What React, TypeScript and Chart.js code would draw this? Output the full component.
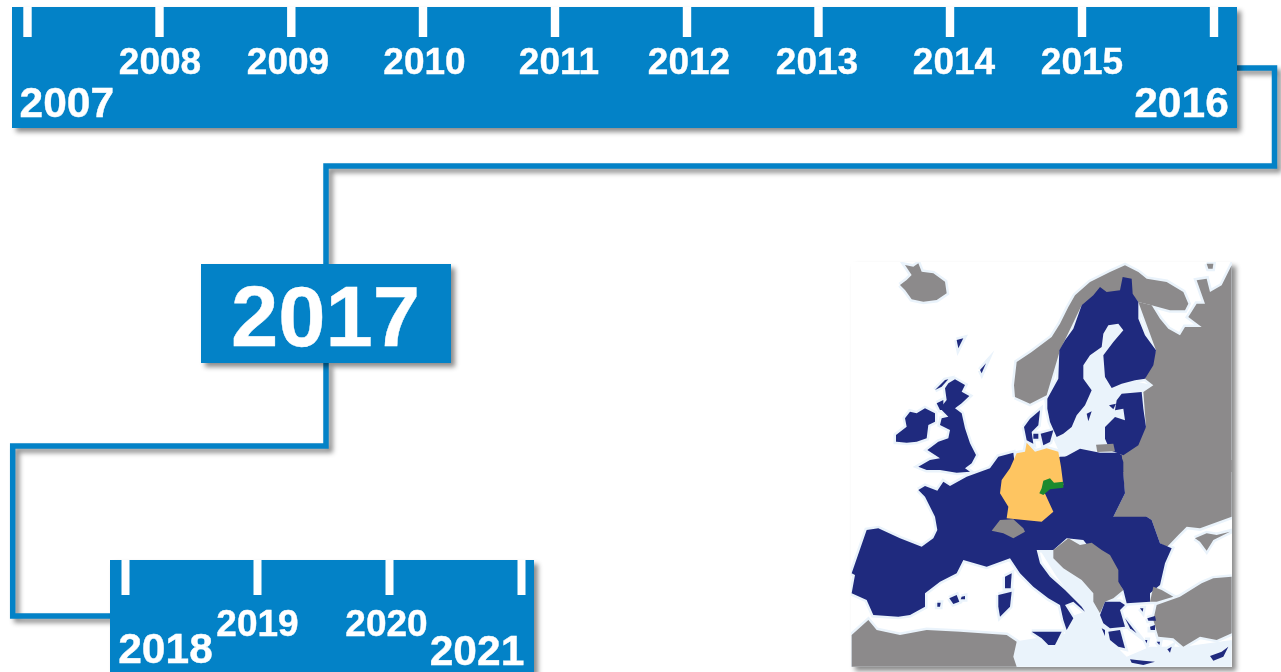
import React, { useEffect, useRef } from "react";
import { Chart, registerables } from "chart.js";

// ---------- timeline content ----------
const bandTop = [12, 1237, 7, 128];
const bandBottom = [110, 534, 560, 672];
const box2017 = [201, 451, 264, 363];
const tickXTop = [27.5, 159.5, 291.3, 423, 555, 687, 818.5, 950, 1082, 1214];
const tickXBottom = [125.5, 257.5, 389.5, 521.5];
const tickYTop = [7, 37];
const tickYBottom = [560, 595];
const connectorA = [[1237, 68], [1274.5, 68], [1274.5, 166], [326, 166], [326, 264]];
const connectorB = [[326, 363], [326, 446], [12.7, 446], [12.7, 616], [110, 616]];

const yearLabels = ["2007", "2008", "2009", "2010", "2011", "2012", "2013", "2014", "2015", "2016", "2017", "2018", "2019", "2020", "2021"];
const yearX = [66.8, 160, 288, 424.5, 559, 689, 817, 954, 1082, 1181.5, 325.5, 165.5, 257.5, 386.5, 477];
const yearY = [117, 74, 74, 74, 74, 74, 74, 74, 74, 117, 346, 663, 636, 636, 665];
const yearSize = [42.5, 37, 37, 37, 37, 37, 37, 37, 37, 42.5, 85, 42.5, 37, 37, 42.5];

// ---------- map outlines, each read in the frame of one crop ----------
const mapFrame = [851, 1232, 262, 667];
const WEST: [number, number] = [850, 460];
const FAR_NORTH: [number, number] = [850, 260];
const NORDIC: [number, number] = [1010, 262];
const ISLES: [number, number] = [890, 370];
const AEGEAN: [number, number] = [1010, 530];

const baltic = [100,400,220,310,280,200,320,180,345,205,290,340,430,370,340,580,150,575,130,530,110,450];
const medSea = [610,270,730,390,745,470,800,560,830,590,900,560,1000,560,1145,540,1145,620,500,620,490,545,650,520,660,470,703,455,620,350,570,270];

const iceland = [150,75,170,60,185,45,165,15,190,20,205,10,215,35,250,40,285,65,290,100,260,120,220,125,185,118,165,90];
const norway = [15,405,12,370,20,300,65,270,125,225,150,185,175,135,195,100,240,60,300,30,345,10,385,30,410,50,470,60,520,90,535,125,525,145,480,145,425,130,385,120,365,95,215,130,150,265,110,400,60,425];
const russia = [385,120,425,130,450,170,475,200,510,220,525,195,575,195,535,165,560,125,585,125,560,55,590,50,600,90,635,70,665,10,665,630,340,630,330,580,408,495,400,390,430,370,405,350,438,265];
const novaya = [590,5,610,5,608,20,595,20];
const kaliningrad = [258,548,310,545,315,568,262,570];
const ukraine = [1145,170,1050,205,1010,200,985,225,950,262,930,250,905,180,890,170,850,180,790,170,825,100,815,0,1145,0];

const crimea = [555,25,590,10,620,15,660,5,610,30,590,62,570,35];
const swiss = [425,212,450,180,490,178,520,205,525,215,490,235,460,220];
const balkans = [130,60,175,25,210,45,245,38,275,60,300,75,325,120,325,155,340,180,310,205,285,215,270,250,250,215,250,190,215,150,160,115,130,85];
const turkey = [665,140,610,145,575,160,510,200,440,225,430,270,445,320,490,325,520,350,570,320,620,330,665,310];
const thrace = [420,215,430,170,455,180,490,200,440,215];
const africa = [5,525,55,480,80,510,150,525,230,510,330,515,470,525,500,545,490,590,500,620,5,620];

const scandinaviaEU = [112,410,145,350,148,265,165,235,190,200,215,130,250,100,270,75,290,90,330,85,338,45,365,50,368,95,385,120,385,170,405,220,438,265,430,310,405,350,375,355,335,365,305,378,285,345,280,280,310,240,340,205,325,185,295,190,280,215,275,255,240,280,220,310,220,350,245,385,225,430,200,460,185,495,160,515,140,525,120,480,112,440];
const balticStates = [335,395,395,390,400,440,408,495,385,550,340,580,300,565,285,530,285,495,315,465,345,475,340,440,315,445,320,415];
const saaremaa = [297,430,318,425,310,442];
const gotland = [230,455,245,448,235,478];
const poland = [155,590,210,560,270,572,330,572,340,600,340,630,155,630];
const britain = [175,40,195,28,225,45,215,65,238,78,215,100,195,115,215,130,225,175,240,220,258,255,245,280,225,295,240,305,200,308,150,300,110,300,85,290,120,270,150,265,112,240,145,215,175,205,180,180,150,165,155,145,175,140,150,115,170,90,165,55];
const hebrides = [135,60,150,45,165,30,175,28,155,50];
const skye = [140,100,160,90,160,120,150,120];
const ireland = [20,215,18,195,50,170,45,145,60,125,80,130,105,115,135,130,135,155,115,165,110,205,80,215,50,218];
const jutland = [42,495,60,470,90,445,85,490,65,510,70,545,50,535];
const zealand = [92,515,130,505,120,540,100,550];
const funen = [70,515,85,515,85,530,70,530];
const shetland = [390,330,408,310,395,340];
const faroe = [320,240,340,235,325,265];
const continent = [205,90,225,78,262,92,280,65,300,78,350,50,420,25,445,-10,490,-22,500,60,630,-10,815,-15,825,100,790,170,890,170,905,180,930,250,965,265,945,310,930,375,900,400,900,425,830,430,820,390,700,240,650,235,610,270,560,270,570,310,600,350,645,390,695,440,705,455,670,425,645,435,670,475,650,510,640,480,630,435,595,415,550,380,510,340,480,295,410,320,340,300,320,340,270,365,225,400,225,440,180,465,145,470,70,465,50,420,5,400,15,345,5,340,50,210,85,205,150,235,215,260,250,235,262,210,255,170,225,110];
const greece = [270,255,285,215,330,215,345,225,330,240,345,290,300,295,280,280];
const peloponnese = [295,305,330,300,345,355,325,350,300,330];
const kefalonia = [275,295,285,300,285,318];
const euboea = [345,265,380,310,360,295];
const sicily = [65,305,100,305,155,305,135,345,115,345,95,325];
const sardinia = [445,405,485,395,480,440,450,470,445,440];
const corsica = [465,350,485,340,482,385,465,385];
const mallorca = [298,415,320,405,328,425,310,432];
const menorca = [335,410,345,408,345,418,332,418];
const ibiza = [262,428,272,428,270,440,262,440];
const crete = [360,388,400,392,435,395,400,405,365,398];
const cyprus = [600,378,635,365,655,350,640,380,610,392];
const lesbos = [412,265,435,258,438,272,415,272];
const chios = [420,290,435,285,435,300,422,300];
const rhodes = [472,358,485,350,480,368];
const lemnos = [390,235,400,235,398,245];
const naxos = [405,330,412,330,410,340];
const kos = [440,335,450,335,448,345];

const germany = [530,-52,555,-25,590,-35,625,-25,633,20,640,75,580,90,610,155,575,185,470,175,475,140,450,100,455,60,480,25,500,-20,525,-25];
const saxony = [580,62,600,55,612,68,640,65,640,83,600,88,580,105,568,100,575,85];

const SEA = "#eaf3fb";
const GREY = "#8c8a8b";
const NAVY = "#1f2a7e";
const YELLOW = "#fec561";
const GREEN = "#1b8a2f";
const BLUE = "#0382c7";

const land: [number[], [number, number], string][] = [
  [iceland, FAR_NORTH, GREY], [norway, NORDIC, GREY], [russia, NORDIC, GREY], [novaya, NORDIC, GREY], [ukraine, WEST, GREY],
  [scandinaviaEU, NORDIC, NAVY], [balticStates, NORDIC, NAVY], [saaremaa, NORDIC, NAVY], [gotland, NORDIC, NAVY], [kaliningrad, NORDIC, GREY],
  [britain, ISLES, NAVY], [hebrides, ISLES, NAVY], [skye, ISLES, NAVY], [ireland, ISLES, NAVY],
  [jutland, NORDIC, NAVY], [zealand, NORDIC, NAVY], [funen, NORDIC, NAVY], [shetland, FAR_NORTH, NAVY], [faroe, FAR_NORTH, NAVY],
  [continent, WEST, NAVY], [poland, NORDIC, NAVY], [germany, WEST, YELLOW], [saxony, WEST, GREEN], [swiss, WEST, GREY], [balkans, AEGEAN, GREY],
  [crimea, AEGEAN, GREY], [turkey, AEGEAN, GREY], [thrace, AEGEAN, GREY], [africa, WEST, GREY],
  [greece, AEGEAN, NAVY], [peloponnese, AEGEAN, NAVY], [kefalonia, AEGEAN, NAVY], [euboea, AEGEAN, NAVY], [sicily, AEGEAN, NAVY],
  [sardinia, WEST, NAVY], [corsica, WEST, NAVY], [mallorca, WEST, NAVY], [menorca, WEST, NAVY], [ibiza, WEST, NAVY],
  [crete, AEGEAN, NAVY], [cyprus, AEGEAN, NAVY], [lesbos, AEGEAN, NAVY], [chios, AEGEAN, NAVY], [rhodes, AEGEAN, NAVY],
  [lemnos, AEGEAN, NAVY], [naxos, AEGEAN, NAVY], [kos, AEGEAN, NAVY],
];

const toPoints = (flat: number[], [ox, oy]: [number, number]) => {
  const out: { x: number; y: number }[] = [];
  for (let i = 0; i < flat.length; i += 2) out.push({ x: ox + flat[i] / 3, y: oy + flat[i + 1] / 3 });
  return out;
};
const rect = ([x0, x1, y0, y1]: number[]) => [
  { x: x0, y: y0 }, { x: x1, y: y0 }, { x: x1, y: y1 }, { x: x0, y: y1 },
];
const shape = (data: any[], color: string, extra: any = {}) => ({
  data, backgroundColor: color, borderWidth: 0, fill: "shape", pointRadius: 0, tension: 0, clip: false, ...extra,
});
const stroke = (pts: number[][]) => ({
  data: pts.map(([x, y]) => ({ x, y })), borderColor: BLUE, borderWidth: 5.5, fill: false, pointRadius: 0,
  borderJoinStyle: "miter", borderCapStyle: "butt", clip: false, shadow: true,
});

const shadowPlugin = {
  id: "markShadow",
  beforeDatasetDraw(chart: any, args: any) {
    const ds = chart.data.datasets[args.index];
    const ctx = chart.ctx;
    ctx.save();
    if (ds.mapClip) {
      const sx = chart.scales.x, sy = chart.scales.y;
      const l = sx.getPixelForValue(mapFrame[0]), r = sx.getPixelForValue(mapFrame[1]);
      const t = sy.getPixelForValue(mapFrame[2]), b = sy.getPixelForValue(mapFrame[3]);
      ctx.beginPath();
      ctx.rect(l, t, r - l, b - t);
      ctx.clip();
    }
    if (ds.shadow) {
      ctx.shadowColor = "rgba(0,0,0,0.45)";
      ctx.shadowBlur = 5;
      ctx.shadowOffsetX = 4;
      ctx.shadowOffsetY = 4;
    }
  },
  afterDatasetDraw(chart: any) {
    chart.ctx.restore();
  },
};
Chart.register(shadowPlugin);
Chart.register(...registerables);

const yearTextPlugin = {
  id: "yearText",
  afterDatasetsDraw(chart: any) {
    const { ctx, scales } = chart;
    ctx.save();
    ctx.fillStyle = "#ffffff";
    ctx.strokeStyle = "#ffffff";
    ctx.lineWidth = 0.4;
    ctx.textAlign = "center";
    ctx.textBaseline = "alphabetic";
    yearLabels.forEach((t, i) => {
      ctx.font = `bold ${yearSize[i]}px "Liberation Sans", Arial, sans-serif`;
      const x = scales.x.getPixelForValue(yearX[i]);
      const y = scales.y.getPixelForValue(yearY[i]);
      ctx.fillText(t, x, y);
      ctx.strokeText(t, x, y);
    });
    ctx.restore();
  },
};

export default function App() {
  const ref = useRef<HTMLCanvasElement>(null);
  useEffect(() => {
    document.body.style.margin = "0";
    const halo: any[] = [];
    land.forEach(([flat, origin]) => {
      const p = toPoints(flat, origin);
      halo.push(...p, p[0], { x: p[0].x, y: NaN });
    });
    const layers: any[] = [
      stroke(connectorA),
      stroke(connectorB),
      shape(rect(bandTop), BLUE, { shadow: true }),
      shape(rect(box2017), BLUE, { shadow: true }),
      shape(rect(bandBottom), BLUE, { shadow: true }),
      ...tickXTop.map((x) => shape(rect([x - 4.2, x + 4.2, tickYTop[0], tickYTop[1]]), "#ffffff")),
      ...tickXBottom.map((x) => shape(rect([x - 4, x + 4, tickYBottom[0], tickYBottom[1]]), "#ffffff")),
      shape(rect(mapFrame), "#ffffff", { shadow: true }),
      shape(toPoints(baltic, NORDIC), SEA, { mapClip: true }),
      shape(toPoints(medSea, WEST), SEA, { mapClip: true }),
      { data: halo, borderColor: SEA, borderWidth: 5, fill: false, pointRadius: 0, mapClip: true, clip: false, spanGaps: false },
      ...land.map(([flat, origin, color]) => shape(toPoints(flat, origin), color, { mapClip: true })),
    ];
    const chart = new Chart(ref.current!, {
      type: "line",
      // Chart.js paints the first dataset last, so the list is reversed to paint in list order.
      data: { datasets: layers.reverse() },
      options: {
        animation: false,
        responsive: false,
        events: [],
        layout: { padding: 0 },
        plugins: { legend: { display: false }, tooltip: { enabled: false } },
        scales: {
          x: { type: "linear", min: 0, max: 1281, display: false },
          y: { type: "linear", min: 0, max: 672, reverse: true, display: false },
        },
      },
      plugins: [yearTextPlugin],
    } as any);
    return () => chart.destroy();
  }, []);
  return <canvas ref={ref} width={1281} height={672} style={{ display: "block" }} />;
}
